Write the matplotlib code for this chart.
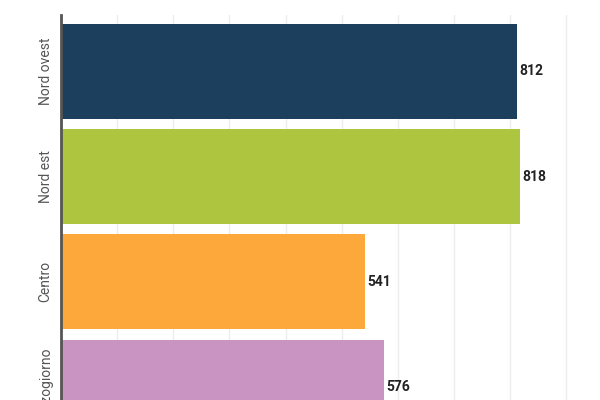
import matplotlib.pyplot as plt

# Data
regions = ['Nord ovest', 'Nord est', 'Centro', 'Mezzogiorno']
values = [812, 818, 541, 576]
colors = ['#1b3f5c', '#aec540', '#fda83a', '#c994c1']

plt.rcParams['font.family'] = ['Roboto', 'DejaVu Sans']

fig = plt.figure(figsize=(6, 4), dpi=100)
ax = fig.add_axes([61 / 600, 0, 1 - 61 / 600, 1 - 15 / 400])

ypos = list(range(len(regions)))
ax.barh(ypos, values, height=0.9, color=colors, zorder=2)

for y, v in zip(ypos, values):
    ax.text(v + 4, y, str(v), va='center', ha='left', fontsize=10,
            fontweight='bold', color='#222222', zorder=3)

ax.set_xlim(0, 960)
ax.set_ylim(3.124, -0.537)
ax.set_xticks(range(100, 1000, 100))
ax.set_xticklabels([])
ax.tick_params(axis='x', length=0)
ax.grid(axis='x', color='#ececec', linewidth=1, zorder=0)

ax.set_yticks(ypos)
ax.set_yticklabels(regions, rotation=90, va='center', color='#555555', fontsize=10)
ax.tick_params(axis='y', length=0, pad=6)

for s in ['top', 'right', 'bottom']:
    ax.spines[s].set_visible(False)
ax.spines['left'].set_color('#555555')
ax.spines['left'].set_linewidth(2)
ax.spines['left'].set_zorder(4)

fig.savefig('out.png', dpi=100)
